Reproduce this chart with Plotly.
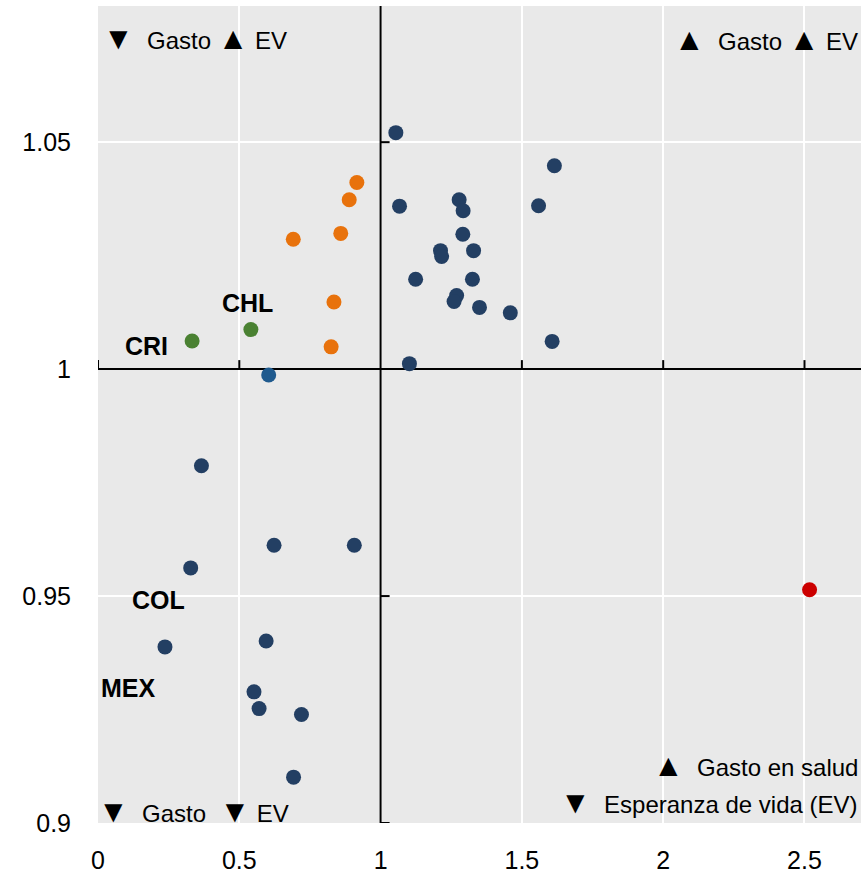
import plotly.graph_objects as go

# Data: x = ratio of health spending growth, y = ratio of life expectancy (EV)
blue_x = [1.054, 1.067, 1.124, 1.102, 1.615, 1.559, 1.278, 1.292, 1.291, 1.212, 1.216, 1.329,
          1.325, 1.269, 1.260, 1.350, 1.459, 1.607,
          0.366, 0.623, 0.907, 0.328, 0.237, 0.595, 0.552, 0.570, 0.720, 0.692]
blue_y = [1.0521, 1.0359, 1.0198, 1.0012, 1.0448, 1.0360, 1.0373, 1.0349, 1.0297, 1.0261, 1.0248, 1.0261,
          1.0198, 1.0162, 1.0149, 1.0136, 1.0124, 1.0061,
          0.9787, 0.9612, 0.9612, 0.9562, 0.9388, 0.9401, 0.9289, 0.9252, 0.9239, 0.9101]
mid_blue_x = [0.604]
mid_blue_y = [0.9987]
orange_x = [0.916, 0.889, 0.691, 0.859, 0.835, 0.825]
orange_y = [1.0411, 1.0373, 1.0286, 1.0299, 1.0148, 1.0049]
green_x = [0.541, 0.333]
green_y = [1.0087, 1.0062]
red_x = [2.518]
red_y = [0.9514]
label_names = ["CHL", "CRI", "COL", "MEX"]
label_x = [0.541, 0.333, 0.328, 0.237]
label_y = [1.0087, 1.0062, 0.9562, 0.9388]

x_ticks = [0, 0.5, 1, 1.5, 2, 2.5]
x_ticktext = ["0", "0.5", "1", "1.5", "2", "2.5"]
y_ticks = [0.9, 0.95, 1, 1.05]
y_ticktext = ["0.9", "0.95", "1", "1.05"]

FONT = "Liberation Sans, Arial, sans-serif"
DARK_BLUE = "#233f63"
MID_BLUE = "#1f5a8e"
ORANGE = "#e8720c"
GREEN = "#4a8132"
RED = "#cc0000"

UP = '<span style="font-size:31px">▲</span>'
DOWN = '<span style="font-size:31px">▼</span>'

fig = go.Figure()
for xs, ys, col in [(blue_x, blue_y, DARK_BLUE), (mid_blue_x, mid_blue_y, MID_BLUE),
                    (orange_x, orange_y, ORANGE), (green_x, green_y, GREEN), (red_x, red_y, RED)]:
    fig.add_trace(go.Scatter(x=xs, y=ys, mode="markers",
                             marker=dict(color=col, size=15, line=dict(width=0)),
                             showlegend=False, hoverinfo="x+y"))

# Crossing axes at (1, 1)
shapes = [
    dict(type="line", xref="x", yref="y", x0=1, x1=1, y0=0.9, y1=1.08,
         line=dict(color="black", width=2), layer="between"),
    dict(type="line", xref="x", yref="y", x0=0, x1=2.7, y0=1, y1=1,
         line=dict(color="black", width=2), layer="between"),
]
for xv in x_ticks:
    if xv == 1:
        continue
    shapes.append(dict(type="line", xref="x", yref="y", ysizemode="pixel", yanchor=1,
                       x0=xv, x1=xv, y0=0, y1=9, line=dict(color="black", width=2), layer="between"))
for yv in y_ticks:
    if yv == 1:
        continue
    shapes.append(dict(type="line", xref="x", yref="y", xsizemode="pixel", xanchor=1,
                       x0=0, x1=9, y0=yv, y1=yv, line=dict(color="black", width=2), layer="between"))

annotations = []
shifts = {"CHL": (-3, 27), "CRI": (-46, -5), "COL": (-32, -32), "MEX": (-36, -41)}
for name, xv, yv in zip(label_names, label_x, label_y):
    dx, dy = shifts[name]
    annotations.append(dict(x=xv, y=yv, xref="x", yref="y", text="<b>" + name + "</b>",
                            showarrow=False, xshift=dx, yshift=dy,
                            font=dict(family=FONT, size=25, color="black")))

quad = [
    (DOWN + "  Gasto " + UP + " EV", 0, 1, "left", 3, -32),
    (UP + "  Gasto " + UP + " EV", 1, 1, "right", -1, -33),
    (DOWN + "  Gasto  " + DOWN + " EV", 0, 0, "left", -2, 12),
    (UP + "  Gasto en salud", 1, 0, "right", -1, 58),
    (DOWN + "  Esperanza de vida (EV)", 1, 0, "right", -1, 21),
]
for txt, px, py, xa, dx, dy in quad:
    annotations.append(dict(x=px, y=py, xref="paper", yref="paper", text=txt, showarrow=False,
                            xanchor=xa, yanchor="middle", xshift=dx, yshift=dy,
                            font=dict(family=FONT, size=24, color="black")))

fig.update_layout(
    width=866, height=876,
    margin=dict(l=98, r=5, t=6, b=53, autoexpand=False),
    paper_bgcolor="white",
    plot_bgcolor="#e9e9e9",
    font=dict(family=FONT, size=25, color="black"),
    shapes=shapes,
    annotations=annotations,
    xaxis=dict(range=[0, 2.7], tickvals=x_ticks, ticktext=x_ticktext, showgrid=True,
               gridcolor="white", gridwidth=2, zeroline=False, showline=False, ticks="",
               automargin=False, ticklabelstandoff=20,
               tickfont=dict(family=FONT, size=25, color="black")),
    yaxis=dict(range=[0.9, 1.08], tickvals=y_ticks, ticktext=y_ticktext, showgrid=True,
               gridcolor="white", gridwidth=2, zeroline=False, showline=False, ticks="",
               automargin=False, ticklabelstandoff=26,
               tickfont=dict(family=FONT, size=25, color="black")),
)

fig.write_html("out.html", config={"displayModeBar": False},
               post_script="document.body.style.margin='0';document.body.style.overflow='hidden';")
